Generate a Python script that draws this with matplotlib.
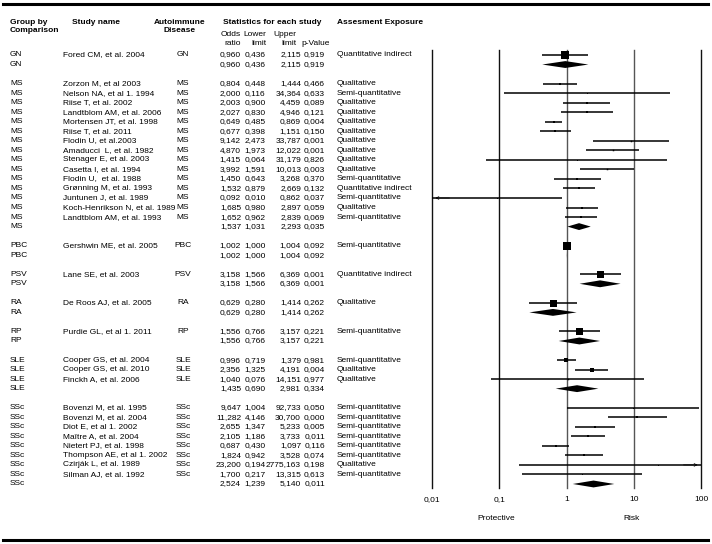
import matplotlib.pyplot as plt
from matplotlib.transforms import blended_transform_factory
from matplotlib.lines import Line2D
from matplotlib.ticker import NullLocator

plt.rcParams['font.family'] = ['Liberation Sans', 'DejaVu Sans']
fs = 6.0

# ---- data ----
groups = ['GN', 'MS', 'PBC', 'PSV', 'RA', 'RP', 'SLE', 'SSc']

study_group = ['GN',
               'MS', 'MS', 'MS', 'MS', 'MS', 'MS', 'MS', 'MS', 'MS', 'MS',
               'MS', 'MS', 'MS', 'MS', 'MS',
               'PBC', 'PSV', 'RA', 'RP',
               'SLE', 'SLE', 'SLE',
               'SSc', 'SSc', 'SSc', 'SSc', 'SSc', 'SSc', 'SSc', 'SSc']
study_name = ['Fored CM, et al. 2004',
              'Zorzon M, et al 2003', 'Nelson NA, et al 1. 1994', 'Riise T, et al. 2002',
              'Landtblom AM, et al. 2006', 'Mortensen JT, et al. 1998', 'Riise T, et al. 2011',
              'Flodin U, et al.2003', 'Amaducci  L, et al. 1982', 'Stenager E, et al. 2003',
              'Casetta I, et al. 1994', 'Flodin U,  et al. 1988', 'Grønning M, et al. 1993',
              'Juntunen J, et al. 1989', 'Koch-Henrikson N, et al. 1989', 'Landtblom AM, et al. 1993',
              'Gershwin ME, et al. 2005', 'Lane SE, et al. 2003', 'De Roos AJ, et al. 2005',
              'Purdie GL, et al 1. 2011',
              'Cooper GS, et al. 2004', 'Cooper GS, et al. 2010', 'Finckh A, et al. 2006',
              'Bovenzi M, et al. 1995', 'Bovenzi M, et al. 2004', 'Diot E, et al 1. 2002',
              'Maître A, et al. 2004', 'Nietert PJ, et al. 1998', 'Thompson AE, et al 1. 2002',
              'Czirják L, et al. 1989', 'Silman AJ, et al. 1992']
odds = [0.960,
        0.804, 2.000, 2.003, 2.027, 0.649, 0.677, 9.142, 4.870, 1.415, 3.992,
        1.450, 1.532, 0.092, 1.685, 1.652,
        1.002, 3.158, 0.629, 1.556,
        0.996, 2.356, 1.040,
        9.647, 11.282, 2.655, 2.105, 0.687, 1.824, 23.200, 1.700]
lower = [0.436,
         0.448, 0.116, 0.900, 0.830, 0.485, 0.398, 2.473, 1.973, 0.064, 1.591,
         0.643, 0.879, 0.010, 0.980, 0.962,
         1.000, 1.566, 0.280, 0.766,
         0.719, 1.325, 0.076,
         1.004, 4.146, 1.347, 1.186, 0.430, 0.942, 0.194, 0.217]
upper = [2.115,
         1.444, 34.364, 4.459, 4.946, 0.869, 1.151, 33.787, 12.022, 31.179, 10.013,
         3.268, 2.669, 0.862, 2.897, 2.839,
         1.004, 6.369, 1.414, 3.157,
         1.379, 4.191, 14.151,
         92.733, 30.700, 5.233, 3.733, 1.097, 3.528, 2775.163, 13.315]
pval = [0.919,
        0.466, 0.633, 0.089, 0.121, 0.004, 0.150, 0.001, 0.001, 0.826, 0.003,
        0.370, 0.132, 0.037, 0.059, 0.069,
        0.092, 0.001, 0.262, 0.221,
        0.981, 0.004, 0.977,
        0.050, 0.000, 0.005, 0.011, 0.116, 0.074, 0.198, 0.613]
exposure = ['Quantitative indirect',
            'Qualitative', 'Semi-quantitative', 'Qualitative', 'Qualitative', 'Qualitative',
            'Qualitative', 'Qualitative', 'Qualitative', 'Qualitative', 'Qualitative',
            'Semi-quantitative', 'Quantitative indirect', 'Semi-quantitative', 'Qualitative',
            'Semi-quantitative',
            'Semi-quantitative', 'Quantitative indirect', 'Qualitative', 'Semi-quantitative',
            'Semi-quantitative', 'Qualitative', 'Qualitative',
            'Semi-quantitative', 'Semi-quantitative', 'Semi-quantitative', 'Semi-quantitative',
            'Semi-quantitative', 'Semi-quantitative', 'Qualitative', 'Semi-quantitative']

# pooled results per group
sum_odds = [0.960, 1.537, 1.002, 3.158, 0.629, 1.556, 1.435, 2.524]
sum_lower = [0.436, 1.031, 1.000, 1.566, 0.280, 0.766, 0.690, 1.239]
sum_upper = [2.115, 2.293, 1.004, 6.369, 1.414, 3.157, 2.981, 5.140]
sum_pval = [0.919, 0.035, 0.092, 0.001, 0.262, 0.221, 0.334, 0.011]

x_ticks = [0.01, 0.1, 1, 10, 100]
x_ticklabels = ['0,01', '0,1', '1', '10', '100']

# box side (px) for each study square
box_px = [8,
          2, 1, 2, 2, 2.5, 2, 1.5, 1.5, 1, 1.5, 2, 2, 1, 2, 2,
          7.5, 7, 7, 7,
          4.5, 3.5, 1.5,
          1, 2, 2.5, 2.5, 2.5, 2, 1, 1]

W, H = 712, 544


def fx(x):
    return x / W


def fy(y):
    return 1 - y / H


def fmt(v):
    return f"{v:.3f}".replace('.', ',')


fig = plt.figure(figsize=(W / 100, H / 100), dpi=100)
ax = fig.add_axes([fx(432), fy(488), (701 - 432) / W, (488 - 50) / H])

step = 9.533
ax.set_xscale('log')
ax.set_xlim(0.01, 100)
ax.set_ylim((488 - 55) / step, -(55 - 50) / step)

# reference lines, the ones at 1 and 10 are a bit lighter
for t in x_ticks:
    c = '#555555' if t in (1, 10) else '#111111'
    ax.axvline(t, color=c, lw=1.0, clip_on=False, zorder=1)

ax.set_xticks(x_ticks)
ax.set_xticklabels(x_ticklabels)
ax.xaxis.set_minor_locator(NullLocator())
ax.tick_params(axis='x', length=0, pad=6, labelsize=fs)
ax.set_yticks([])
for s in ax.spines.values():
    s.set_visible(False)

trans = blended_transform_factory(fig.transFigure, ax.transData)


def row_text(r, grp, name, dis, o, lo, hi, p, expo):
    kw = dict(transform=trans, va='center', fontsize=fs)
    ax.text(fx(10), r, grp, ha='left', **kw)
    ax.text(fx(63), r, name, ha='left', **kw)
    ax.text(fx(183), r, dis, ha='center', **kw)
    ax.text(fx(241), r, fmt(o), ha='right', **kw)
    ax.text(fx(244.5), r, fmt(lo), ha='left', **kw)
    ax.text(fx(301), r, fmt(hi), ha='right', **kw)
    ax.text(fx(325), r, fmt(p), ha='right', **kw)
    ax.text(fx(337), r, expo, ha='left', **kw)


def ci_line(r, lo, hi):
    a, b = max(lo, 0.01), min(hi, 100)
    ax.plot([a, b], [r, r], color='k', lw=1.1, solid_capstyle='butt', zorder=3)
    # arrows where the interval runs off the scale
    if lo <= 0.01:
        ax.annotate('', xy=(0.0102, r), xytext=(0.02, r),
                    arrowprops=dict(arrowstyle='->', lw=0.5, mutation_scale=5))
    if hi > 100:
        ax.annotate('', xy=(98, r), xytext=(50, r),
                    arrowprops=dict(arrowstyle='->', lw=0.5, mutation_scale=5))


r = 0
for gi, g in enumerate(groups):
    idx = [i for i in range(len(study_group)) if study_group[i] == g]
    for i in idx:
        row_text(r, g, study_name[i], g, odds[i], lower[i], upper[i], pval[i], exposure[i])
        ci_line(r, lower[i], upper[i])
        ax.plot(odds[i], r, marker='s', color='k', markersize=box_px[i] * 0.72,
                markeredgewidth=0, zorder=4)
        r += 1
    # pooled row
    row_text(r, g, '', '', sum_odds[gi], sum_lower[gi], sum_upper[gi], sum_pval[gi], '')
    h = 0.36
    ax.fill([sum_lower[gi], sum_odds[gi], sum_upper[gi], sum_odds[gi]],
            [r, r - h, r, r + h], color='k', lw=0, zorder=4)
    r += 2

# headers
hk = dict(fontsize=fs, fontweight='bold', va='center')
fig.text(fx(10), fy(22), 'Group by', ha='left', **hk)
fig.text(fx(10), fy(30), 'Comparison', ha='left', **hk)
fig.text(fx(96), fy(22), 'Study name', ha='center', **hk)
fig.text(fx(180), fy(22), 'Autoimmune', ha='center', **hk)
fig.text(fx(180), fy(30), 'Disease', ha='center', **hk)
fig.text(fx(272), fy(22), 'Statistics for each study', ha='center', **hk)
fig.text(fx(337), fy(22), 'Assesment Exposure', ha='left', **hk)

sk = dict(fontsize=fs, va='center', ha='right')
fig.text(fx(241), fy(35), 'Odds', **sk)
fig.text(fx(241), fy(43.5), 'ratio', **sk)
fig.text(fx(266), fy(35), 'Lower', **sk)
fig.text(fx(266), fy(43.5), 'limit', **sk)
fig.text(fx(296), fy(35), 'Upper', **sk)
fig.text(fx(296), fy(43.5), 'limit', **sk)
fig.text(fx(330), fy(43.5), 'p-Value', **sk)

fig.text(fx(496), fy(518), 'Protective', ha='center', va='center', fontsize=fs)
fig.text(fx(632), fy(518), 'Risk', ha='center', va='center', fontsize=fs)

# top and bottom rules
fig.add_artist(Line2D([fx(3), fx(708)], [fy(4), fy(4)], color='k', lw=2.2))
fig.add_artist(Line2D([fx(3), fx(708)], [fy(540), fy(540)], color='k', lw=2.2))

fig.savefig('out.png', dpi=100)
